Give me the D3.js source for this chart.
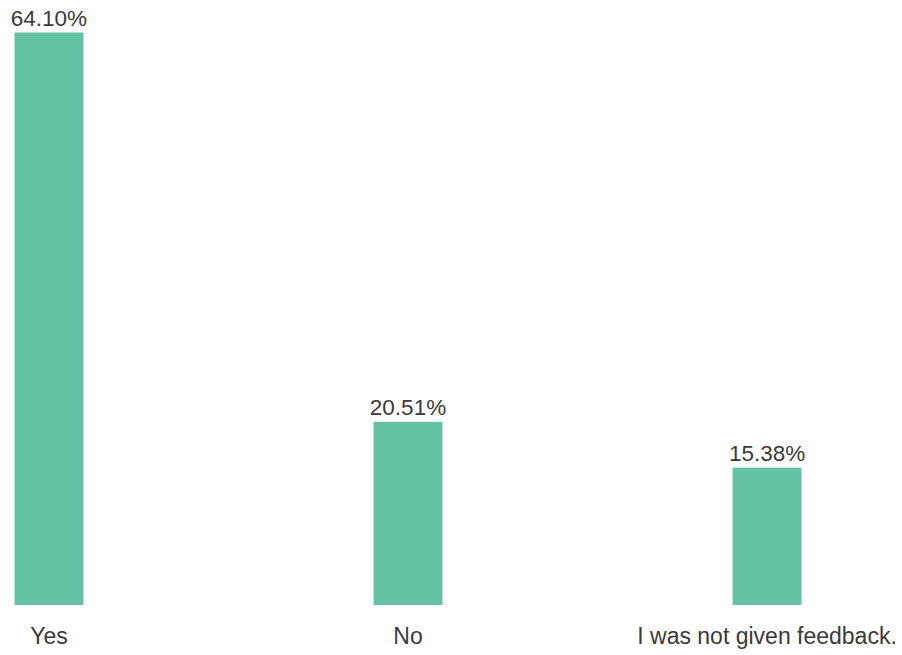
<!DOCTYPE html>
<html>
<head>
<meta charset="utf-8">
<script src="https://cdn.jsdelivr.net/npm/d3@7"></script>
<style>
  html, body { margin: 0; padding: 0; background: #fff; }
  svg { display: block; }
</style>
</head>
<body>
<svg id="chart" width="902" height="655"></svg>
<script>
// Survey answers and their shares (percent)
const categories = ["Yes", "No", "I was not given feedback."];
const shares = [64.10, 20.51, 15.38];

const svg = d3.select("#chart");
const barColor = "#66c2a5";
const textColor = "#3a3a3a";
const fontFamily = "'Liberation Sans', Arial, sans-serif";

const plotBottom = 605;
const plotTop = 32.5;

const x = d3.scaleBand()
  .domain(categories)
  .range([14.5, 801.5])
  .paddingInner(0.808)
  .paddingOuter(0);

const y = d3.scaleLinear()
  .domain([0, d3.max(shares)])
  .range([plotBottom, plotTop]);

const data = categories.map((c, i) => ({ category: c, value: shares[i] }));

svg.selectAll("rect.bar")
  .data(data)
  .join("rect")
  .attr("class", "bar")
  .attr("x", d => x(d.category))
  .attr("y", d => y(d.value))
  .attr("width", x.bandwidth())
  .attr("height", d => plotBottom - y(d.value))
  .attr("fill", barColor);

// Value labels above each bar
svg.selectAll("text.value")
  .data(data)
  .join("text")
  .attr("class", "value")
  .attr("x", d => x(d.category) + x.bandwidth() / 2)
  .attr("y", d => y(d.value) - 7)
  .attr("text-anchor", "middle")
  .attr("font-family", fontFamily)
  .attr("font-size", "22.5px")
  .attr("fill", textColor)
  .text(d => d.value.toFixed(2) + "%");

// Category axis labels (no axis line or ticks)
const xAxis = d3.axisBottom(x).tickSize(0).tickPadding(0);
const axisG = svg.append("g")
  .attr("transform", `translate(0,${plotBottom})`)
  .call(xAxis);
axisG.select(".domain").remove();
axisG.selectAll("text")
  .attr("y", 39)
  .attr("dy", 0)
  .attr("font-family", fontFamily)
  .attr("font-size", "23px")
  .attr("fill", textColor);
</script>
</body>
</html>
